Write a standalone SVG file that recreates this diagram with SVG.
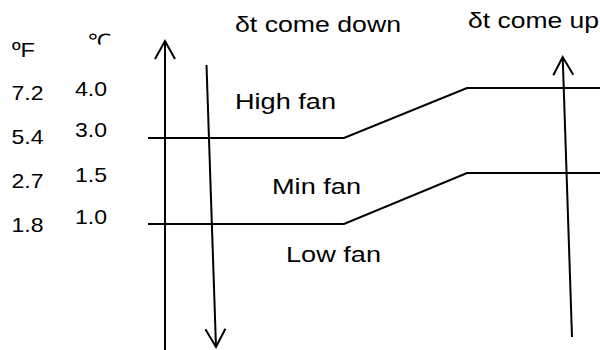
<svg xmlns="http://www.w3.org/2000/svg" width="600" height="350" viewBox="0 0 600 350">
<style>
.ln{fill:none;stroke:#000;stroke-width:2}
.t{font-family:"Liberation Sans",Arial,sans-serif;fill:#000}
.lbl{font-size:22px}
.num{font-size:21px}
</style>
<defs>
<marker id="ah" markerUnits="userSpaceOnUse" markerWidth="24" markerHeight="24" viewBox="-20 -12 24 24" refX="0" refY="0" orient="auto">
<path d="M-18,-10 L0,0 L-18,10" fill="none" stroke="#000" stroke-width="2"/>
</marker>
<clipPath id="cclip"><rect x="80" y="20" width="40" height="24.5"/></clipPath>
</defs>
<rect width="600" height="350" fill="#fff"/>
<g id="connectors">
<line class="ln" x1="165" y1="350" x2="165" y2="41" marker-end="url(#ah)"/>
<line class="ln" x1="206.5" y1="65" x2="216" y2="347" marker-end="url(#ah)"/>
<line class="ln" x1="572" y1="337" x2="562.7" y2="57" marker-end="url(#ah)"/>
<path class="ln" d="M148,138 H344 L467,88 H600"/>
<path class="ln" d="M148,224 H344 L467,173 H600"/>
</g>
<g id="headers">
<text class="t lbl" x="235" y="32" textLength="166" lengthAdjust="spacingAndGlyphs">δt come down</text>
<text class="t lbl" x="468" y="28" textLength="131" lengthAdjust="spacingAndGlyphs">δt come up</text>
</g>
<g id="zones">
<text class="t lbl" x="235" y="109" textLength="101" lengthAdjust="spacingAndGlyphs">High fan</text>
<text class="t lbl" x="272" y="194" textLength="89" lengthAdjust="spacingAndGlyphs">Min fan</text>
<text class="t lbl" x="286" y="262" textLength="95" lengthAdjust="spacingAndGlyphs">Low fan</text>
</g>
<g id="scale-f">
<text class="t num" x="12" y="57" textLength="23" lengthAdjust="spacingAndGlyphs">ºF</text>
<text class="t num" x="11.5" y="100" textLength="32" lengthAdjust="spacingAndGlyphs">7.2</text>
<text class="t num" x="11.5" y="144" textLength="32" lengthAdjust="spacingAndGlyphs">5.4</text>
<text class="t num" x="11.5" y="188" textLength="32" lengthAdjust="spacingAndGlyphs">2.7</text>
<text class="t num" x="11.5" y="232" textLength="32" lengthAdjust="spacingAndGlyphs">1.8</text>
</g>
<g id="scale-c">
<text class="t" x="87.5" y="47.5" font-size="20" font-family="'DejaVu Sans',sans-serif" textLength="23" lengthAdjust="spacingAndGlyphs" clip-path="url(#cclip)">℃</text>
<text class="t num" x="75" y="96" textLength="32" lengthAdjust="spacingAndGlyphs">4.0</text>
<text class="t num" x="75" y="137" textLength="32" lengthAdjust="spacingAndGlyphs">3.0</text>
<text class="t num" x="75" y="182" textLength="32" lengthAdjust="spacingAndGlyphs">1.5</text>
<text class="t num" x="75" y="224" textLength="32" lengthAdjust="spacingAndGlyphs">1.0</text>
</g>
</svg>
